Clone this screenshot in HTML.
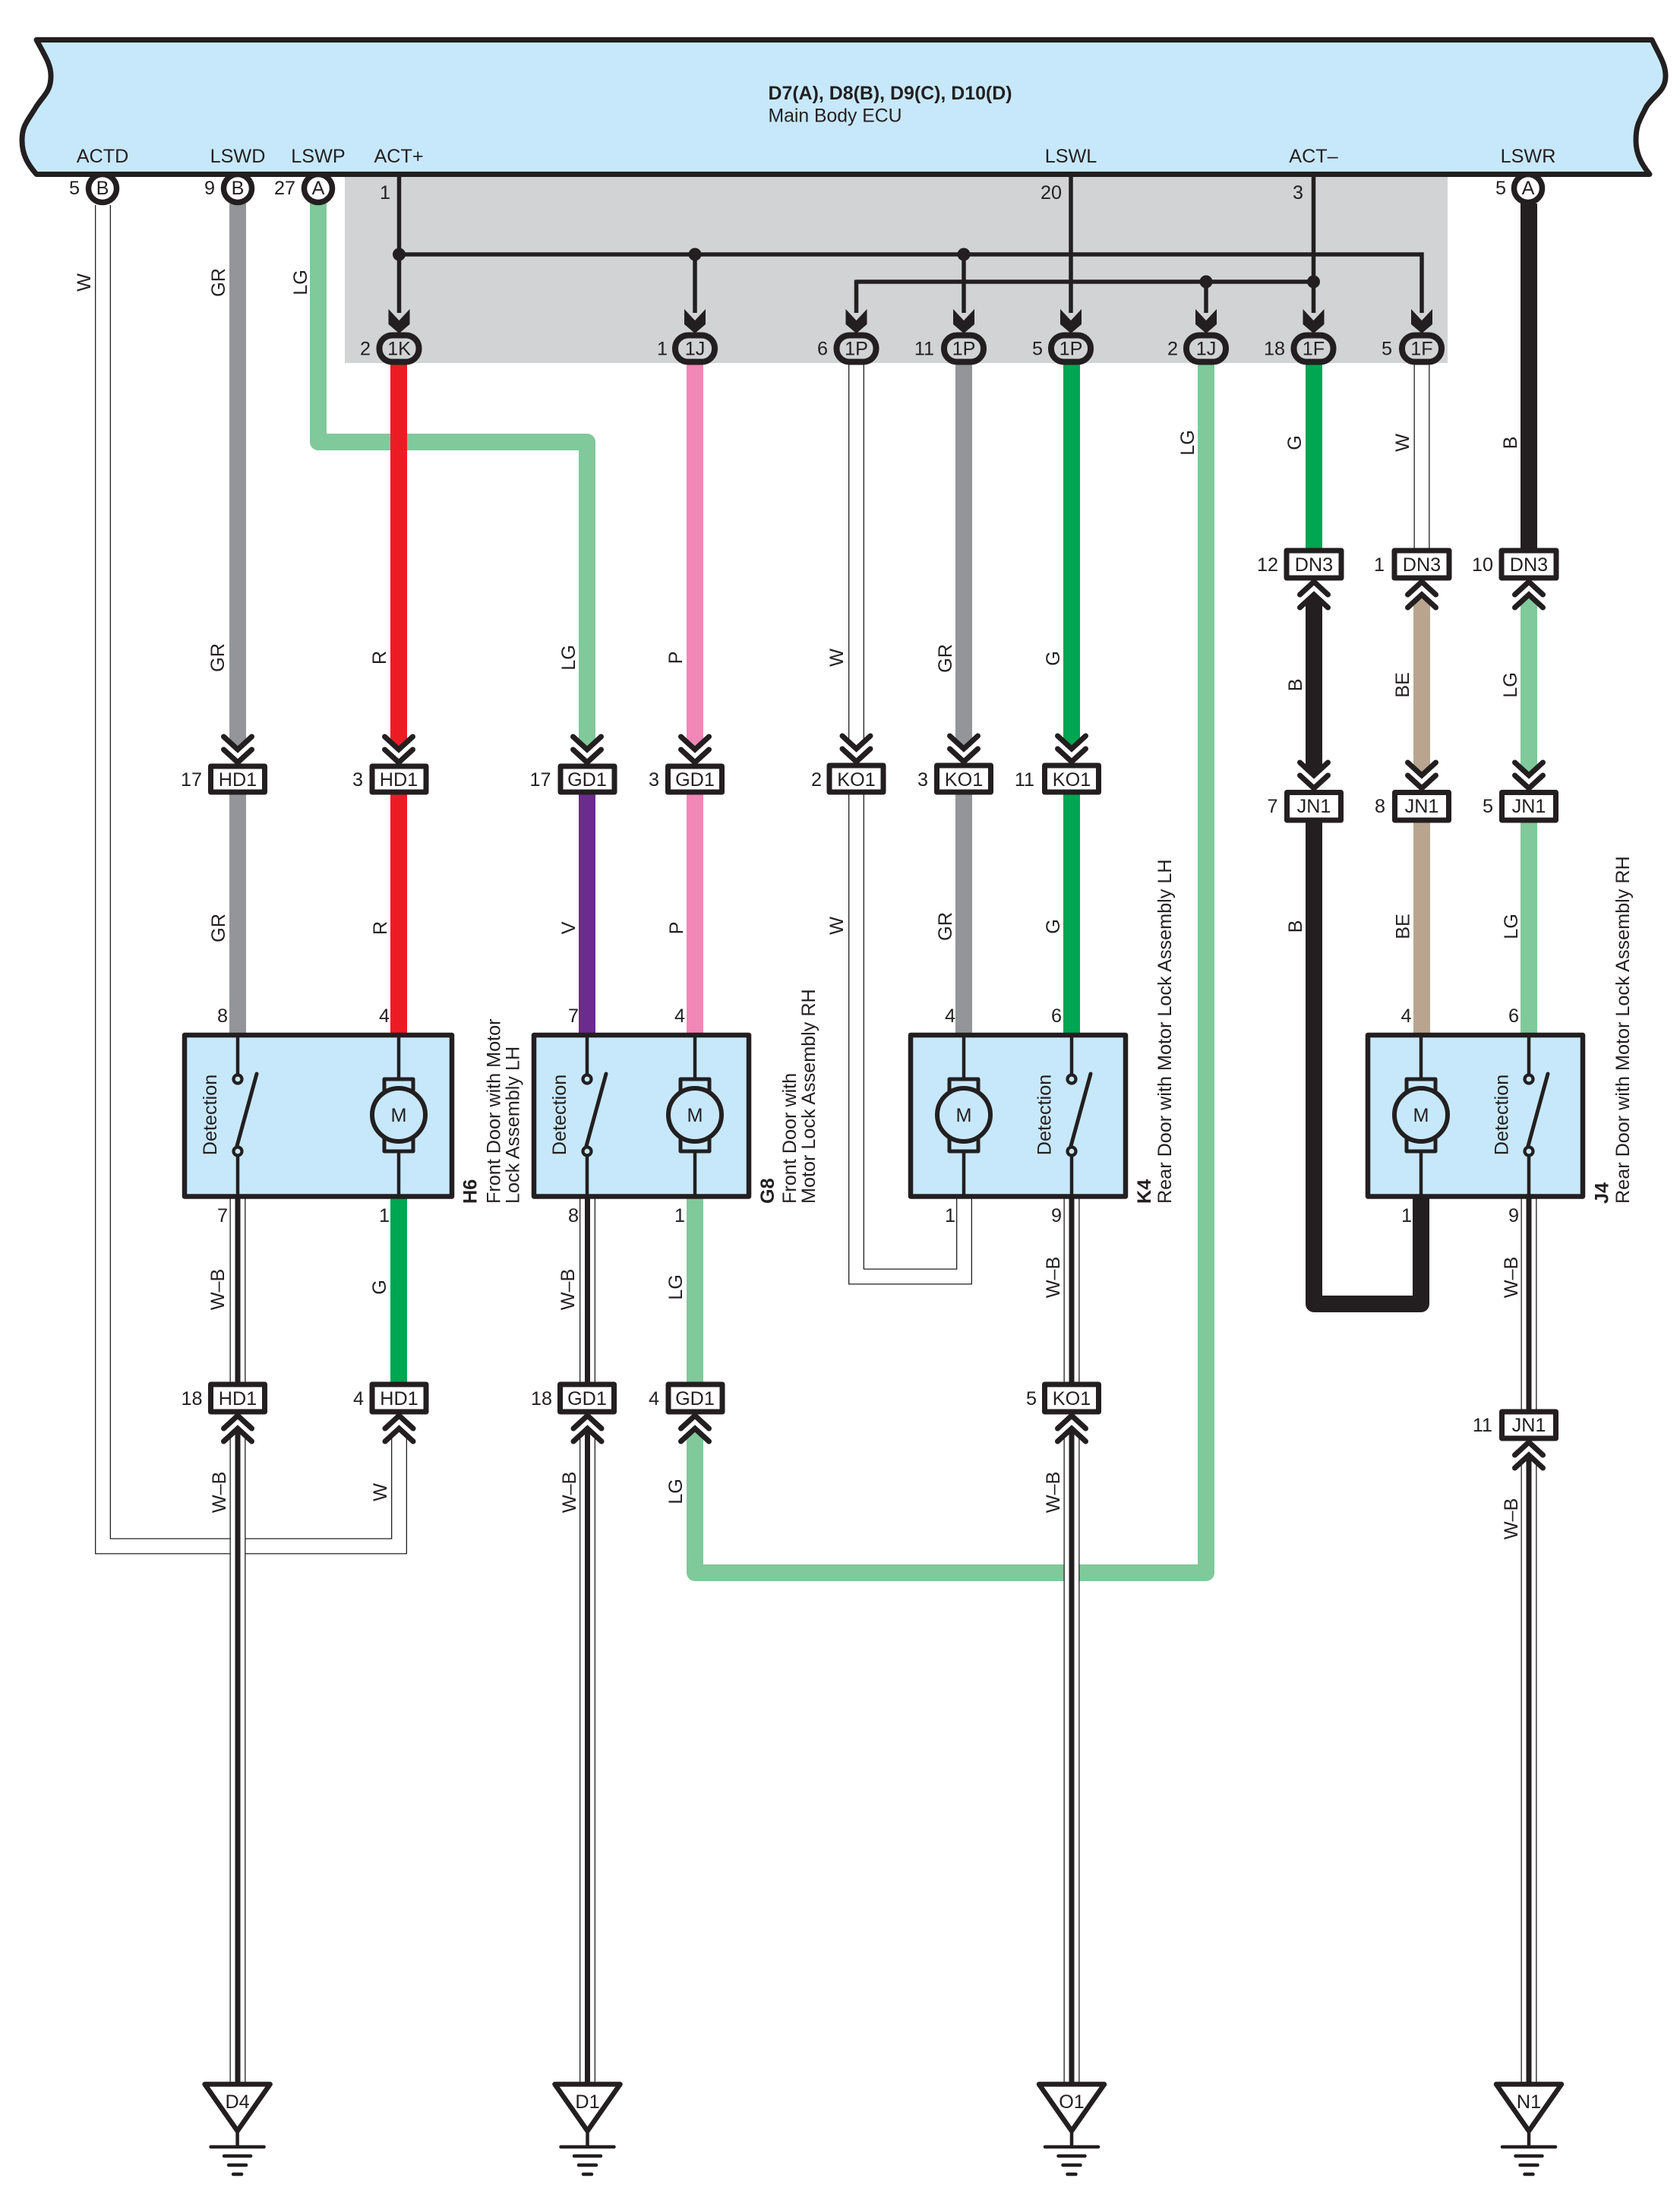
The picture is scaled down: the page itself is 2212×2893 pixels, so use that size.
<!DOCTYPE html>
<html>
<head>
<meta charset="utf-8">
<style>
html,body{margin:0;padding:0;background:#fff}
svg{display:block}
text{font-family:"Liberation Sans",sans-serif;font-size:25.2px;fill:#231f20}
.m{text-anchor:middle}
.e{text-anchor:end}
.bd{font-weight:bold}
.box{fill:#fff;stroke:#231f20;stroke-width:7;stroke-linejoin:round}
.ov{fill:#d1d3d4;stroke:#231f20;stroke-width:8}
.pin{fill:#fff;stroke:#231f20;stroke-width:7.5}
.w{fill:none;stroke-width:22;stroke-linejoin:round}
.o1{fill:none;stroke:#231f20;stroke-width:21;stroke-linejoin:miter}
.o2{fill:none;stroke:#fff;stroke-width:18.4;stroke-linejoin:miter}
.o3{fill:none;stroke:#231f20;stroke-width:7}
.th{fill:none;stroke:#231f20;stroke-width:5.5}
.mod{fill:#c7e8fb;stroke:#231f20;stroke-width:6.5;stroke-linejoin:round}
.ln{fill:none;stroke:#231f20;stroke-width:4.5}
.sc{fill:#c7e8fb;stroke:#231f20;stroke-width:4.2}
.gb{fill:none;stroke:#231f20;stroke-width:4.5;stroke-linecap:round}
</style>
</head>
<body>
<svg xmlns="http://www.w3.org/2000/svg" width="2212" height="2893" viewBox="0 0 2212 2893">
<defs>
<g id="cd">
<polygon points="-12,-25 0,-16 12,-25 12,-8 -12,-8" fill="#fff"/>
<path d="M-18.5 -36 L0 -19 L18.5 -36 M-18.5 -19 L0 -2 L18.5 -19" fill="none" stroke="#231f20" stroke-width="7" stroke-linecap="round"/>
</g>
<g id="cu">
<polygon points="-12,25 0,16 12,25 12,8 -12,8" fill="#fff"/>
<path d="M-18.5 36 L0 19 L18.5 36 M-18.5 19 L0 2 L18.5 19" fill="none" stroke="#231f20" stroke-width="7" stroke-linecap="round"/>
</g>
<polygon id="ah" points="-14,-31 0,-16 14,-31 14,-11 0,1 -14,-11" fill="#231f20"/>
<g id="sw">
<path class="ln" d="M0 1363 V1421 M0 1516 V1578"/>
<circle class="sc" cx="0" cy="1421" r="5.5"/>
<circle class="sc" cx="0" cy="1516" r="5.5"/>
<path d="M-1 1509 L25 1414" fill="none" stroke="#231f20" stroke-width="5" stroke-linecap="round"/>
</g>
<g id="mo">
<path class="ln" d="M0 1363 V1578"/>
<rect x="-19" y="1421" width="38" height="20" fill="#c7e8fb" stroke="#231f20" stroke-width="5" stroke-linejoin="round"/>
<rect x="-19" y="1496" width="38" height="20" fill="#c7e8fb" stroke="#231f20" stroke-width="5" stroke-linejoin="round"/>
<circle cx="0" cy="1468" r="35" fill="#c7e8fb" stroke="#231f20" stroke-width="6"/>
<text class="m" x="0" y="1477">M</text>
</g>
<g id="gd">
<polygon points="-43,2744.5 43,2744.5 0,2806" fill="#fff" stroke="#231f20" stroke-width="6.5" stroke-linejoin="round"/>
<path class="ln" d="M0 2806 V2827"/>
<path class="gb" d="M-35 2827 H35 M-17.5 2839 H17.5 M-11.5 2851 H11.5 M-5.5 2863 H5.5"/>
</g>
</defs>

<!-- grey area -->
<rect x="454" y="229" width="1452" height="249" fill="#d1d3d4"/>

<!-- ACTD white wire -->
<path class="o1" d="M135.5 270 V2036 H525.5 V1880"/>
<path class="o2" d="M135.5 270 V2036 H525.5 V1880"/>

<!-- LG wires -->
<path class="w" stroke="#80c99b" d="M419 268 V582 H773 V987"/>
<path class="w" stroke="#80c99b" d="M915 1578 V1820"/>
<path class="w" stroke="#80c99b" d="M915 1881 V2071 H1588 V478"/>

<!-- Colored wires -->
<path class="w" stroke="#939598" d="M313 268 V987"/>
<path class="w" stroke="#939598" d="M313 1046 V1360"/>
<path class="w" stroke="#ed1c24" d="M525 478 V987"/>
<path class="w" stroke="#ed1c24" d="M525 1046 V1360"/>
<path class="w" stroke="#6c2b8f" d="M773 1046 V1360"/>
<path class="w" stroke="#f287b7" d="M915 478 V987"/>
<path class="w" stroke="#f287b7" d="M915 1046 V1360"/>
<path class="w" stroke="#939598" d="M1269 478 V986"/>
<path class="w" stroke="#939598" d="M1269 1046 V1360"/>
<path class="w" stroke="#00a651" d="M1411 478 V986"/>
<path class="w" stroke="#00a651" d="M1411 1046 V1360"/>
<path class="w" stroke="#00a651" d="M1730 478 V722"/>
<path class="w" stroke="#231f20" d="M1730 783 V1021"/>
<path class="w" stroke="#231f20" d="M1730 1083 V1717 H1871 V1578"/>
<path class="w" stroke="#b9a58f" d="M1872 783 V1021"/>
<path class="w" stroke="#b9a58f" d="M1872 1083 V1360"/>
<path class="w" stroke="#231f20" d="M2013 268 V722"/>
<path class="w" stroke="#80c99b" d="M2013 783 V1021"/>
<path class="w" stroke="#80c99b" d="M2013 1083 V1360"/>
<path class="w" stroke="#00a651" d="M525 1578 V1820"/>

<!-- white wires -->
<path class="o1" d="M1127.5 478 V986"/><path class="o2" d="M1127.5 478 V986"/>
<path class="o1" d="M1127.5 1046 V1681 H1269.5 V1578"/><path class="o2" d="M1127.5 1046 V1681 H1269.5 V1578"/>
<path class="o1" d="M1872 478 V722"/><path class="o2" d="M1872 478 V722"/>

<!-- W-B wires -->
<g>
<path class="o1" d="M313 1578 V1820 M313 1881 V2744 M773.5 1578 V1820 M773.5 1881 V2744 M1411 1578 V1820 M1411 1881 V2744 M2013 1578 V1856 M2013 1916 V2744"/>
<path class="o2" d="M313 1578 V1820 M313 1881 V2744 M773.5 1578 V1820 M773.5 1881 V2744 M1411 1578 V1820 M1411 1881 V2744 M2013 1578 V1856 M2013 1916 V2744"/>
<path class="o3" d="M313 1578 V1820 M313 1881 V2744 M773.5 1578 V1820 M773.5 1881 V2744 M1411 1578 V1820 M1411 1881 V2744 M2013 1578 V1856 M2013 1916 V2744"/>
</g>

<!-- grey-area lines -->
<path class="th" d="M525.5 229 V412 M525.5 335 H1872 V412 M915 335 V412 M1269 335 V412 M1127.5 371 H1729.5 M1127.5 368.5 V412 M1410 229 V412 M1588 371 V412 M1729.5 229 V412"/>
<g fill="#231f20">
<circle cx="525.5" cy="335" r="8.5"/><circle cx="915" cy="335" r="8.5"/><circle cx="1269" cy="335" r="8.5"/>
<circle cx="1588" cy="371" r="8.5"/><circle cx="1729.5" cy="371" r="8.5"/>
</g>
<use href="#ah" x="525.5" y="438"/><use href="#ah" x="915" y="438"/><use href="#ah" x="1127.5" y="438"/>
<use href="#ah" x="1269" y="438"/><use href="#ah" x="1410" y="438"/><use href="#ah" x="1588" y="438"/>
<use href="#ah" x="1729.5" y="438"/><use href="#ah" x="1872" y="438"/>

<!-- pin circles -->
<circle class="pin" cx="135" cy="248" r="18.5"/>
<circle class="pin" cx="313" cy="248" r="18.5"/>
<circle class="pin" cx="419" cy="248" r="18.5"/>
<circle class="pin" cx="2012" cy="248" r="18.5"/>

<!-- ECU -->
<path d="M48 52.5 L2175 52.5 C2186 75 2193 85 2193 100 C2193 120 2178 125 2168 140 C2158 160 2154 165 2154 185 C2154 205 2163 218 2172 229.5 L48 229.5 C38 218 29 205 29 185 C29 165 36 160 48 140 C58 125 67 120 67 100 C67 85 60 75 48 52.5 Z" fill="#c7e8fb" stroke="#231f20" stroke-width="7" stroke-linejoin="round"/>

<text class="bd" x="1011.5" y="131" textLength="321" lengthAdjust="spacingAndGlyphs">D7(A), D8(B), D9(C), D10(D)</text>
<text x="1011.5" y="160.5" textLength="176" lengthAdjust="spacingAndGlyphs">Main Body ECU</text>
<text class="m" x="135" y="214">ACTD</text>
<text class="m" x="313" y="214">LSWD</text>
<text class="m" x="419" y="214">LSWP</text>
<text class="m" x="525" y="214">ACT+</text>
<text class="m" x="1410" y="214">LSWL</text>
<text class="m" x="1729.5" y="214">ACT–</text>
<text class="m" x="2012" y="214">LSWR</text>

<text class="m" x="135" y="256">B</text>
<text class="m" x="313" y="256">B</text>
<text class="m" x="419" y="256">A</text>
<text class="m" x="2012" y="256">A</text>
<text class="e" x="105" y="256">5</text>
<text class="e" x="283" y="256">9</text>
<text class="e" x="389" y="256">27</text>
<text class="e" x="1983" y="256">5</text>
<text class="m" x="507" y="262">1</text>
<text class="m" x="1384" y="262">20</text>
<text class="m" x="1709" y="262">3</text>

<!-- ovals -->
<rect class="ov" x="499.5" y="441.5" width="52" height="35" rx="17"/>
<rect class="ov" x="889" y="441.5" width="52" height="35" rx="17"/>
<rect class="ov" x="1101.5" y="441.5" width="52" height="35" rx="17"/>
<rect class="ov" x="1243" y="441.5" width="52" height="35" rx="17"/>
<rect class="ov" x="1384" y="441.5" width="52" height="35" rx="17"/>
<rect class="ov" x="1562" y="441.5" width="52" height="35" rx="17"/>
<rect class="ov" x="1703.5" y="441.5" width="52" height="35" rx="17"/>
<rect class="ov" x="1846" y="441.5" width="52" height="35" rx="17"/>
<text class="m" x="525.5" y="467.5">1K</text>
<text class="m" x="915" y="467.5">1J</text>
<text class="m" x="1127.5" y="467.5">1P</text>
<text class="m" x="1269" y="467.5">1P</text>
<text class="m" x="1410" y="467.5">1P</text>
<text class="m" x="1588" y="467.5">1J</text>
<text class="m" x="1729.5" y="467.5">1F</text>
<text class="m" x="1872" y="467.5">1F</text>
<text class="e" x="488" y="467.5">2</text>
<text class="e" x="879" y="467.5">1</text>
<text class="e" x="1090" y="467.5">6</text>
<text class="e" x="1230" y="467.5">11</text>
<text class="e" x="1373" y="467.5">5</text>
<text class="e" x="1551" y="467.5">2</text>
<text class="e" x="1692" y="467.5">18</text>
<text class="e" x="1833" y="467.5">5</text>

<!-- DN3 row -->
<rect class="box" x="1694" y="725" width="72" height="36"/>
<rect class="box" x="1836" y="725" width="72" height="36"/>
<rect class="box" x="1977" y="725" width="72" height="36"/>
<text class="m" x="1730" y="752">DN3</text><text class="m" x="1872" y="752">DN3</text><text class="m" x="2013" y="752">DN3</text>
<text class="e" x="1683" y="752">12</text><text class="e" x="1823" y="752">1</text><text class="e" x="1966" y="752">10</text>
<use href="#cu" x="1730" y="764"/><use href="#cu" x="1872" y="764"/><use href="#cu" x="2013" y="764"/>

<!-- JN1 row -->
<rect class="box" x="1694.5" y="1043.5" width="71" height="36.5"/>
<rect class="box" x="1836.5" y="1043.5" width="71" height="36.5"/>
<rect class="box" x="1977.5" y="1043.5" width="71" height="36.5"/>
<text class="m" x="1730" y="1070">JN1</text><text class="m" x="1872" y="1070">JN1</text><text class="m" x="2013" y="1070">JN1</text>
<text class="e" x="1682.5" y="1070">7</text><text class="e" x="1824" y="1070">8</text><text class="e" x="1966" y="1070">5</text>
<use href="#cd" x="1730" y="1040"/><use href="#cd" x="1872" y="1040"/><use href="#cd" x="2013" y="1040"/>

<!-- upper connector row -->
<rect class="box" x="277.5" y="1009" width="71" height="34"/>
<rect class="box" x="490" y="1009" width="71" height="34"/>
<rect class="box" x="738" y="1009" width="71" height="34"/>
<rect class="box" x="879.5" y="1009" width="71" height="34"/>
<rect class="box" x="1092" y="1008" width="71" height="35"/>
<rect class="box" x="1233.5" y="1008" width="71" height="35"/>
<rect class="box" x="1375.5" y="1008" width="71" height="35"/>
<text class="m" x="313" y="1035">HD1</text><text class="m" x="525" y="1035">HD1</text>
<text class="m" x="773" y="1035">GD1</text><text class="m" x="915" y="1035">GD1</text>
<text class="m" x="1127.5" y="1035">KO1</text><text class="m" x="1269" y="1035">KO1</text><text class="m" x="1411" y="1035">KO1</text>
<text class="e" x="266" y="1035">17</text><text class="e" x="478" y="1035">3</text>
<text class="e" x="725.5" y="1035">17</text><text class="e" x="868" y="1035">3</text>
<text class="e" x="1082" y="1035">2</text><text class="e" x="1222" y="1035">3</text><text class="e" x="1362" y="1035">11</text>
<use href="#cd" x="313" y="1006"/><use href="#cd" x="525" y="1006"/><use href="#cd" x="773" y="1006"/><use href="#cd" x="915" y="1006"/>
<use href="#cd" x="1127.5" y="1005"/><use href="#cd" x="1269" y="1005"/><use href="#cd" x="1411" y="1005"/>

<!-- lower connector row -->
<rect class="box" x="277.5" y="1823" width="71" height="36"/>
<rect class="box" x="490" y="1823" width="71" height="36"/>
<rect class="box" x="737.5" y="1823" width="71" height="36"/>
<rect class="box" x="880" y="1823" width="71" height="36"/>
<rect class="box" x="1375.5" y="1823" width="71" height="36"/>
<rect class="box" x="1977.5" y="1859" width="71" height="35"/>
<text class="m" x="313" y="1850">HD1</text><text class="m" x="525.5" y="1850">HD1</text>
<text class="m" x="773" y="1850">GD1</text><text class="m" x="915" y="1850">GD1</text>
<text class="m" x="1411" y="1850">KO1</text><text class="m" x="2013" y="1885">JN1</text>
<text class="e" x="266.5" y="1850">18</text><text class="e" x="479" y="1850">4</text>
<text class="e" x="727" y="1850">18</text><text class="e" x="868" y="1850">4</text>
<text class="e" x="1365" y="1850">5</text><text class="e" x="1965" y="1885">11</text>
<use href="#cu" x="313" y="1862"/><use href="#cu" x="525.5" y="1862"/><use href="#cu" x="773.5" y="1862"/>
<use href="#cu" x="915" y="1862"/><use href="#cu" x="1411" y="1862"/><use href="#cu" x="2013" y="1897"/>

<!-- modules -->
<rect class="mod" x="243" y="1363" width="352" height="212.5"/>
<rect class="mod" x="703" y="1363" width="283" height="212.5"/>
<rect class="mod" x="1199" y="1363" width="283" height="212.5"/>
<rect class="mod" x="1801" y="1363" width="283" height="212.5"/>
<use href="#sw" x="313"/><use href="#mo" x="525"/>
<use href="#sw" x="773"/><use href="#mo" x="915"/>
<use href="#mo" x="1269"/><use href="#sw" x="1411"/>
<use href="#mo" x="1871"/><use href="#sw" x="2013"/>
<text class="m" transform="translate(285,1468) rotate(-90)">Detection</text>
<text class="m" transform="translate(745,1468) rotate(-90)">Detection</text>
<text class="m" transform="translate(1383.5,1468) rotate(-90)">Detection</text>
<text class="m" transform="translate(1985.5,1468) rotate(-90)">Detection</text>

<!-- pin numbers -->
<text class="m" x="293" y="1346">8</text><text class="m" x="506" y="1346">4</text><text class="m" x="755" y="1346">7</text><text class="m" x="895" y="1346">4</text>
<text class="m" x="1251" y="1346">4</text><text class="m" x="1391" y="1346">6</text><text class="m" x="1851.5" y="1346">4</text><text class="m" x="1993" y="1346">6</text>
<text class="m" x="293" y="1609">7</text><text class="m" x="506" y="1609">1</text><text class="m" x="755" y="1609">8</text><text class="m" x="895" y="1609">1</text>
<text class="m" x="1251" y="1609">1</text><text class="m" x="1391" y="1609">9</text><text class="m" x="1852" y="1609">1</text><text class="m" x="1993" y="1609">9</text>

<!-- module labels -->
<g>
<text class="bd" transform="translate(627.5,1585) rotate(-90)">H6</text>
<text transform="translate(658.5,1585) rotate(-90)">Front Door with Motor</text>
<text transform="translate(683.5,1585) rotate(-90)">Lock Assembly LH</text>
<text class="bd" transform="translate(1019,1585) rotate(-90)">G8</text>
<text transform="translate(1048,1585) rotate(-90)">Front Door with</text>
<text transform="translate(1073,1585) rotate(-90)">Motor Lock Assembly RH</text>
<text class="bd" transform="translate(1515,1585) rotate(-90)">K4</text>
<text transform="translate(1542,1585) rotate(-90)">Rear Door with Motor Lock Assembly LH</text>
<text class="bd" transform="translate(2117.5,1585) rotate(-90)">J4</text>
<text transform="translate(2145,1585) rotate(-90)">Rear Door with Motor Lock Assembly RH</text>
</g>

<!-- wire colour labels -->
<g>
<text class="m" transform="translate(119,372) rotate(-90)">W</text>
<text class="m" transform="translate(296,372) rotate(-90)">GR</text>
<text class="m" transform="translate(404,372) rotate(-90)">LG</text>
<text class="m" transform="translate(1572,583) rotate(-90)">LG</text>
<text class="m" transform="translate(1713,583) rotate(-90)">G</text>
<text class="m" transform="translate(1855,583) rotate(-90)">W</text>
<text class="m" transform="translate(1997,583) rotate(-90)">B</text>

<text class="m" transform="translate(295,866) rotate(-90)">GR</text>
<text class="m" transform="translate(508,866) rotate(-90)">R</text>
<text class="m" transform="translate(757,866) rotate(-90)">LG</text>
<text class="m" transform="translate(898,866) rotate(-90)">P</text>
<text class="m" transform="translate(1110,866) rotate(-90)">W</text>
<text class="m" transform="translate(1253,867) rotate(-90)">GR</text>
<text class="m" transform="translate(1395,867) rotate(-90)">G</text>
<text class="m" transform="translate(1714,902) rotate(-90)">B</text>
<text class="m" transform="translate(1855,902) rotate(-90)">BE</text>
<text class="m" transform="translate(1997,902) rotate(-90)">LG</text>

<text class="m" transform="translate(296,1222) rotate(-90)">GR</text>
<text class="m" transform="translate(509,1222) rotate(-90)">R</text>
<text class="m" transform="translate(757,1222) rotate(-90)">V</text>
<text class="m" transform="translate(899,1222) rotate(-90)">P</text>
<text class="m" transform="translate(1110,1219) rotate(-90)">W</text>
<text class="m" transform="translate(1253,1220) rotate(-90)">GR</text>
<text class="m" transform="translate(1395,1220) rotate(-90)">G</text>
<text class="m" transform="translate(1714,1220) rotate(-90)">B</text>
<text class="m" transform="translate(1855.5,1220) rotate(-90)">BE</text>
<text class="m" transform="translate(1998,1220) rotate(-90)">LG</text>

<text class="m" transform="translate(295,1698) rotate(-90)">W–B</text>
<text class="m" transform="translate(508,1695) rotate(-90)">G</text>
<text class="m" transform="translate(756,1698) rotate(-90)">W–B</text>
<text class="m" transform="translate(898,1695) rotate(-90)">LG</text>
<text class="m" transform="translate(1395,1682) rotate(-90)">W–B</text>
<text class="m" transform="translate(1998,1682) rotate(-90)">W–B</text>

<text class="m" transform="translate(297,1965) rotate(-90)">W–B</text>
<text class="m" transform="translate(509,1965) rotate(-90)">W</text>
<text class="m" transform="translate(758,1965) rotate(-90)">W–B</text>
<text class="m" transform="translate(898,1964) rotate(-90)">LG</text>
<text class="m" transform="translate(1395,1965) rotate(-90)">W–B</text>
<text class="m" transform="translate(1998,2000) rotate(-90)">W–B</text>
</g>

<!-- grounds -->
<use href="#gd" x="312.6"/><use href="#gd" x="773.5"/><use href="#gd" x="1411"/><use href="#gd" x="2013"/>
<text class="m" x="312.6" y="2776">D4</text>
<text class="m" x="773.5" y="2776">D1</text>
<text class="m" x="1411" y="2776">O1</text>
<text class="m" x="2013" y="2776">N1</text>
</svg>
</body>
</html>
